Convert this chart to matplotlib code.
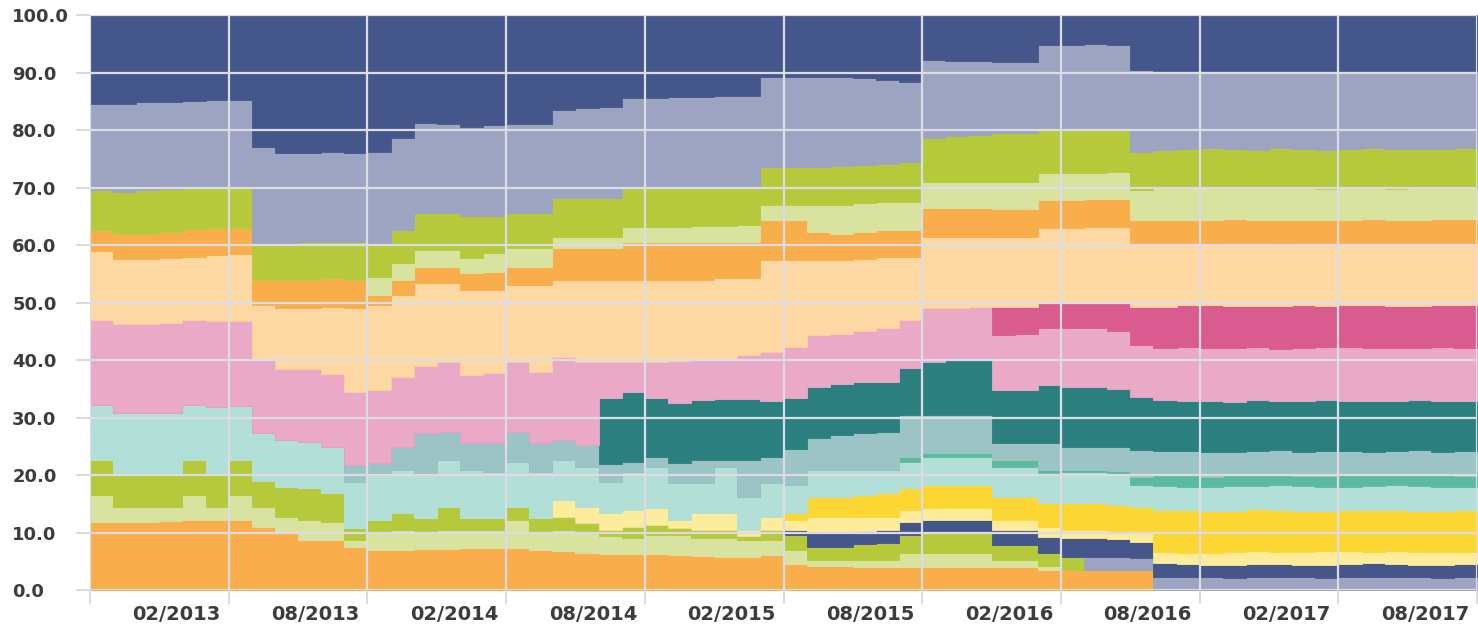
import matplotlib
matplotlib.use("Agg")
import matplotlib.pyplot as plt
import numpy as np

# monthly shares (%), one list per series, 60 months from late 2012 to 2017
# stacking order is bottom -> top
orange_low = [11.8, 11.8, 11.8, 12.0, 12.2, 12.2, 12.2, 11.0, 9.9, 8.7, 8.7, 7.5,
              7.0, 7.0, 7.2, 7.2, 7.3, 7.3, 7.3, 7.0, 6.8, 6.5, 6.3, 6.2,
              6.2, 6.1, 6.0, 5.8, 5.7, 6.1, 4.5, 4.2, 4.1, 4.0, 4.0, 4.0,
              4.0, 4.0, 4.0, 4.0, 4.0, 3.5, 3.5, 3.5, 3.5, 3.5, 0, 0,
              0, 0, 0, 0, 0, 0, 0, 0, 0, 0, 0, 0]
palegreen_low = [4.7, 2.6, 2.6, 2.4, 4.3, 2.2, 4.3, 3.4, 2.8, 3.5, 3.1, 1.2,
                 2.9, 3.4, 2.7, 3.2, 3.1, 3.1, 4.9, 3.1, 3.6, 3.4, 3.1, 2.8,
                 3.3, 3.4, 3.0, 3.2, 3.0, 2.6, 2.5, 1.0, 1.1, 1.2, 1.2, 2.4,
                 2.4, 2.4, 2.4, 1.2, 1.2, 0.7, 0, 0, 0, 0, 0, 0,
                 0, 0, 0, 0, 0, 0, 0, 0, 0, 0, 0, 0]
green_low = [6.1, 5.6, 5.6, 5.6, 6.1, 5.6, 6.1, 4.6, 5.3, 5.5, 5.0, 2.1,
             2.3, 3.0, 2.6, 4.0, 2.1, 2.1, 2.2, 2.4, 2.3, 1.7, 1.0, 2.0,
             1.8, 1.3, 1.4, 1.4, 0.7, 1.7, 2.6, 2.3, 2.3, 2.8, 2.9, 3.2,
             3.5, 3.5, 3.5, 2.6, 2.6, 2.2, 2.2, 0, 0, 0, 0, 0,
             0, 0, 0, 0, 0, 0, 0, 0, 0, 0, 0, 0]
lavender_low = [0] * 43 + [2.2, 2.3, 2.0,
                           2.3, 2.2, 2.2, 2.1, 2.2, 2.3, 2.2, 2.1, 2.2, 2.2, 2.3, 2.2, 2.1, 2.2]
navy_low = [0] * 30 + [0.8, 2.4, 2.4, 2.2, 2.3, 2.2,
                       2.3, 2.3, 2.3, 2.6, 2.6, 2.8, 3.3, 3.3, 3.1, 2.9,
                       2.4, 2.3, 2.2, 2.3, 2.4, 2.3, 2.2, 2.3, 2.4, 2.5, 2.3, 2.2, 2.3, 2.3]
paleyellow = [0] * 20 + [3.0, 2.8, 3.0, 2.9, 2.9, 1.4, 3.0, 3.0, 1.0, 2.3,
                         1.8, 2.8, 2.8, 2.5, 2.3, 2.1, 2.0, 2.0, 2.0, 1.8,
                         1.8, 1.8, 1.4, 1.4, 1.4, 1.7,
                         1.9, 2.0, 2.1, 2.2, 2.1, 2.0, 2.2, 2.3, 2.1, 2.0, 2.2, 2.3, 2.2, 2.1]
gold = [0] * 30 + [1.2, 3.5, 3.5, 3.8, 4.1, 3.8, 4.1, 4.1, 4.1, 4.0,
                   4.0, 4.1, 4.7, 4.7, 4.6, 4.3,
                   7.3, 7.4, 7.2, 7.1, 7.3, 7.4, 7.2, 7.0, 7.2, 7.3, 7.1, 7.0, 7.2, 7.3]
paleaqua = [9.6, 10.8, 10.8, 10.8, 9.6, 11.8, 9.4, 8.3, 8.1, 8.1, 8.1, 8.0,
            8.1, 7.5, 7.8, 8.2, 8.4, 8.0, 7.9, 8.0, 6.9, 7.0, 5.4, 6.6,
            7.2, 6.4, 5.2, 8.0, 5.8, 5.9, 4.9, 4.7, 4.7, 4.4, 4.1, 4.6,
            4.8, 4.8, 4.8, 5.2, 5.2, 5.2, 5.4, 5.4, 5.4, 3.9,
            4.1, 4.0, 4.2, 4.3, 4.1, 4.2, 4.3, 4.2, 4.0, 4.1, 4.3, 4.4, 4.2, 4.1]
seagreen = [0] * 35 + [0.8, 0.7, 0.7, 0.7, 1.2, 1.2, 0.6, 0.4, 0.4, 0.5, 1.4,
                       2.0, 2.1, 1.9, 2.0, 2.2, 2.0, 1.8, 1.9, 2.1, 2.0, 1.9, 2.1, 2.0, 1.9]
grayteal = [0] * 11 + [2.9, 1.8, 4.0, 7.0, 4.9, 4.6, 5.1, 5.2, 5.1, 3.5, 3.8,
                       3.2, 1.8, 1.7, 3.5, 4.0, 1.2, 6.4, 4.5, 6.3, 5.5, 6.1, 6.4,
                       6.6, 7.3, 6.6, 6.6, 6.6, 3.0, 3.0, 4.7, 4.0, 4.0, 4.2, 4.6,
                       4.2, 4.1, 4.3, 4.0, 3.9, 4.1, 4.2, 4.3, 4.1, 3.9, 4.0, 4.2, 4.1, 4.2]
teal = [0] * 22 + [11.4, 12.1, 10.3, 10.4, 10.4, 10.6, 10.6, 9.7, 8.8, 8.9,
                   8.8, 8.9, 8.7, 8.2, 9.3, 9.6, 9.6, 9.2, 9.2, 10.0, 10.4, 10.4,
                   10.2, 9.3,
                   8.7, 8.8, 8.9, 8.7, 8.8, 8.6, 8.9, 8.8, 8.7, 8.9, 8.8, 8.7, 8.9, 8.8]
pink = [14.8, 15.5, 15.5, 15.7, 14.8, 15.0, 14.8, 12.7, 12.4, 12.7, 12.6, 12.7,
        12.7, 12.1, 11.7, 12.1, 11.9, 12.1, 12.2, 12.4, 14.4, 14.4, 6.2, 5.2,
        6.2, 7.3, 7.0, 7.0, 7.6, 8.6, 8.9, 9.0, 8.7, 8.8, 9.4, 8.4,
        9.3, 9.0, 9.2, 9.5, 9.7, 10.0, 10.2, 10.2, 10.1, 9.0,
        9.1, 9.3, 9.2, 9.4, 9.2, 9.1, 9.3, 9.2, 9.4, 9.3, 9.1, 9.2, 9.3, 9.2]
magenta = [0] * 39 + [4.9, 4.7, 4.5, 4.6, 4.6, 4.9, 6.6,
                      7.2, 7.4, 7.5, 7.3, 7.1, 7.4, 7.5, 7.2, 7.3, 7.5, 7.4, 7.2, 7.3, 7.4]
peach = [12.0, 11.2, 11.2, 11.2, 11.0, 11.4, 11.7, 9.5, 10.5, 10.5, 11.7, 14.6,
         14.8, 14.3, 14.4, 13.8, 14.8, 14.5, 13.3, 15.0, 13.4, 14.3, 14.3, 14.3,
         14.3, 14.2, 14.0, 14.0, 13.4, 16.0, 15.1, 13.1, 12.9, 12.6, 12.3, 10.9,
         12.4, 12.4, 12.2, 12.2, 12.2, 12.9, 12.9, 13.1, 13.3, 11.1,
         11.0, 10.8, 10.7, 10.9, 11.0, 10.8, 10.7, 10.9, 10.8, 10.7, 10.9, 11.0, 10.8, 10.9]
orange_high = [3.6, 4.5, 4.5, 4.6, 4.8, 4.8, 4.5, 4.4, 5.0, 5.0, 5.0, 5.0,
               1.7, 2.6, 2.8, 2.8, 2.9, 3.1, 3.2, 3.2, 5.6, 5.6, 5.6, 6.6,
               6.6, 6.5, 6.5, 6.4, 6.4, 6.9, 6.9, 4.9, 4.6, 4.7, 4.7, 4.7,
               5.0, 5.0, 5.0, 4.8, 4.8, 4.8, 4.8, 4.8, 4.8, 4.0,
               4.1, 4.0, 4.2, 4.1, 4.0, 4.2, 4.1, 4.0, 4.1, 4.2, 4.0, 4.1, 4.2, 4.1]
palegreen_high = [0] * 12 + [3.1, 3.0, 2.9, 2.9, 2.6, 3.3, 3.3, 3.3, 1.9, 1.9, 1.9, 2.6,
                             2.6, 2.7, 2.8, 2.8, 2.9, 2.7, 2.7, 4.7, 5.0, 5.0, 4.9, 4.9,
                             4.6, 4.6, 4.6, 4.8, 4.8, 4.7, 4.7, 4.6, 4.7, 5.3,
                             5.4, 5.5, 5.6, 5.4, 5.5, 5.6, 5.5, 5.4, 5.6, 5.5, 5.4, 5.5, 5.6, 5.5]
green_high = [6.9, 7.3, 7.5, 7.5, 7.2, 7.0, 7.0, 6.4, 6.3, 6.5, 6.3, 6.5,
              5.9, 5.7, 6.4, 6.4, 7.3, 6.4, 6.0, 6.0, 6.7, 6.7, 6.7, 6.8,
              6.8, 6.8, 6.8, 6.8, 6.8, 6.6, 6.6, 6.6, 6.8, 6.6, 6.6, 6.9,
              7.6, 7.9, 8.2, 8.5, 8.5, 7.5, 7.5, 7.6, 7.6, 6.6,
              6.7, 6.8, 6.9, 6.8, 6.7, 6.8, 6.9, 6.8, 6.7, 6.8, 6.9, 6.8, 6.7, 6.8]
lavender_high = [15.0, 15.3, 15.3, 15.1, 15.0, 15.2, 15.2, 16.7, 15.7, 15.5, 15.7, 15.5,
                 15.9, 16.0, 15.7, 15.5, 15.5, 15.9, 15.5, 15.5, 15.4, 15.7, 15.9, 15.6,
                 15.7, 15.7, 15.7, 15.7, 15.7, 15.6, 15.6, 15.6, 15.4, 15.1, 14.6, 13.9,
                 13.6, 13.2, 12.8, 12.3, 12.3, 14.8, 14.8, 14.7, 14.6, 14.2,
                 13.7, 13.6, 13.5, 13.6, 13.7, 13.5, 13.6, 13.7, 13.6, 13.5, 13.6, 13.7, 13.6, 13.5]
navy_high = [15.5, 15.4, 15.2, 15.1, 15.0, 14.8, 14.8, 23.0, 24.0, 24.0, 23.8, 24.0,
             23.8, 21.4, 18.8, 19.0, 19.5, 19.1, 19.0, 19.0, 16.5, 16.2, 16.0, 14.5,
             14.4, 14.3, 14.2, 14.1, 14.0, 10.8, 10.8, 10.8, 10.8, 11.0, 11.3, 11.7,
             7.8, 7.9, 8.0, 8.2, 8.2, 5.2, 5.2, 5.1, 5.3, 9.6,
             9.7, 9.7, 9.7, 9.7, 9.7, 9.7, 9.7, 9.7, 9.7, 9.7, 9.7, 9.7, 9.7, 9.7]

tick_labels = ["02/2013", "08/2013", "02/2014", "08/2014", "02/2015",
               "08/2015", "02/2016", "08/2016", "02/2017", "08/2017"]

series = [orange_low, palegreen_low, green_low, lavender_low, navy_low,
          paleyellow, gold, paleaqua, seagreen, grayteal, teal, pink,
          magenta, peach, orange_high, palegreen_high, green_high,
          lavender_high, navy_high]
colors = ["#f9ae4b", "#d8e3a0", "#b5c93a", "#9ca4c2", "#45568a",
          "#fdec9c", "#fcd734", "#b2e0d9", "#5cbb9f", "#9cc4c6", "#2c7f7f",
          "#eba9c8", "#da5b8f", "#fdd8a2", "#f9ae4b", "#d8e3a0", "#b5c93a",
          "#9ca4c2", "#45568a"]

data = np.array(series, dtype=float)
data = data / data.sum(axis=0) * 100  # 100% stacked
n = data.shape[1]
x = np.arange(n + 1)

fig = plt.figure(figsize=(14.78, 6.29), dpi=100)
ax = fig.add_axes([0.0609, 0.062, 0.9385, 0.914])

bottom = np.zeros(n)
for vals, c in zip(data, colors):
    top = bottom + vals
    lo = np.append(bottom, bottom[-1])
    hi = np.append(top, top[-1])
    ax.fill_between(x, lo, hi, step="post", color=c, linewidth=0.6, edgecolor=c)
    bottom = top

ax.set_xlim(0, n)
ax.set_ylim(0, 100)
for s in ax.spines.values():
    s.set_visible(False)

# gridlines every 6 months, labels between them
ax.set_xticks(np.arange(0, n + 1, 6), minor=True)
ax.set_xticks(np.arange(6, n + 1, 6) - 2.25)
ax.set_xticklabels(tick_labels)
ax.tick_params(axis="x", which="major", length=0, pad=11, labelsize=14,
               labelcolor="#3c3c3c")
ax.tick_params(axis="x", which="minor", length=10, color="#d4d4d8", width=1.2)

ax.set_yticks(np.arange(0, 101, 10))
ax.set_yticklabels([f"{v:.1f}" for v in range(0, 101, 10)])
ax.tick_params(axis="y", length=10, color="#d4d4d8", width=1.2, pad=46,
               labelsize=13, labelcolor="#3c3c3c")
for lab in ax.get_yticklabels():
    lab.set_horizontalalignment("left")
    lab.set_fontweight("bold")
for lab in ax.get_xticklabels():
    lab.set_fontweight("bold")

ax.set_axisbelow(False)
ax.grid(which="minor", axis="x", color="#dcdce4", linewidth=1.6)
ax.grid(which="major", axis="y", color="#dcdce4", linewidth=1.6)
ax.grid(which="major", axis="x", visible=False)

fig.savefig("out.png", dpi=100)
